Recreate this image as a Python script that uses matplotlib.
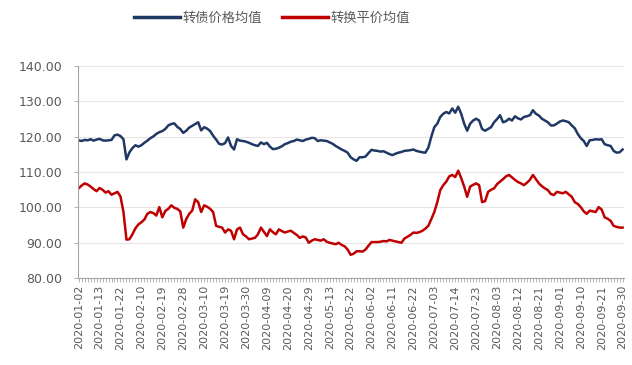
import pandas as pd
import matplotlib.pyplot as plt
from matplotlib.ticker import FixedLocator, MultipleLocator, FormatStrFormatter

plt.rcParams['font.family'] = ['Noto Sans CJK SC', 'DejaVu Sans']

# trading calendar, 2020-01-02 .. 2020-09-30 (SSE holidays removed)
holidays = (list(pd.date_range('2020-01-24', '2020-02-02'))
            + [pd.Timestamp('2020-04-06')]
            + list(pd.date_range('2020-05-01', '2020-05-05'))
            + [pd.Timestamp('2020-06-25'), pd.Timestamp('2020-06-26')])
dates = [d for d in pd.bdate_range('2020-01-02', '2020-09-30') if d not in holidays]
date_labels = [d.strftime('%Y-%m-%d') for d in dates]

# mean convertible bond price
bond_price = [
    119.0, 118.8, 119.1, 119.0, 119.3, 118.9, 119.2, 119.4, 119.0, 118.9,
    119.0, 119.1, 120.4, 120.6, 120.2, 119.3, 113.6, 115.6, 116.8, 117.6,
    117.2, 117.6, 118.3, 118.9, 119.6, 120.1, 120.8, 121.3, 121.6, 122.2,
    123.2, 123.6, 123.8, 122.8, 122.2, 121.1, 121.7, 122.6, 123.1, 123.6,
    124.1, 121.8, 122.7, 122.3, 121.6, 120.3, 119.2, 118.0, 117.8, 118.2,
    119.8, 117.4, 116.4, 119.3, 118.9, 118.8, 118.6, 118.3, 117.9, 117.6,
    117.4, 118.4, 117.9, 118.3, 117.2, 116.5, 116.6, 116.9, 117.3, 117.9,
    118.2, 118.6, 118.8, 119.2, 119.0, 118.8, 119.2, 119.4, 119.7, 119.6,
    118.8, 119.0, 118.9, 118.8, 118.4, 118.0, 117.4, 116.9, 116.4, 116.0,
    115.5, 114.2, 113.6, 113.2, 114.2, 114.2, 114.4, 115.4, 116.3, 116.1,
    116.0, 115.8, 115.9, 115.5, 115.1, 114.8, 115.2, 115.5, 115.7, 116.0,
    116.1, 116.2, 116.4, 116.0, 115.8, 115.6, 115.5, 116.9, 120.0, 122.7,
    123.7, 125.6, 126.5, 127.0, 126.6, 128.0, 126.8, 128.5, 126.5, 123.7,
    121.7, 123.7, 124.6, 125.1, 124.6, 122.2, 121.7, 122.2, 122.7, 124.1,
    125.0, 126.1, 124.1, 124.4, 125.1, 124.6, 125.8, 125.2, 124.9, 125.6,
    125.8, 126.1, 127.5, 126.5, 126.0, 125.1, 124.6, 124.1, 123.2, 123.2,
    123.7, 124.3, 124.6, 124.4, 124.1, 123.2, 122.4, 120.8, 119.6, 118.8,
    117.4, 119.0, 119.1, 119.3, 119.2, 119.3, 117.9, 117.6, 117.4, 116.0,
    115.5, 115.6, 116.4,
]

# mean conversion parity
conv_parity = [
    105.4, 106.2, 106.8, 106.5, 105.9, 105.2, 104.6, 105.5, 105.0, 104.2,
    104.6, 103.6, 104.0, 104.4, 103.1, 98.7, 90.9, 91.0, 92.4, 94.1,
    95.2, 95.8, 96.6, 98.2, 98.7, 98.4, 97.7, 100.1, 97.2, 99.0,
    99.6, 100.6, 99.9, 99.6, 98.9, 94.3, 96.7, 98.2, 99.1, 102.3,
    101.5, 98.7, 100.6, 100.2, 99.6, 98.7, 94.8, 94.5, 94.3, 92.9,
    93.8, 93.4, 91.0, 93.8, 94.3, 92.4, 91.8, 91.0, 91.2, 91.4,
    92.4, 94.3, 93.1, 91.9, 93.8, 93.0, 92.4, 93.8, 93.3, 92.9,
    93.2, 93.4, 92.8, 92.2, 91.4, 91.8, 91.5, 90.0, 90.6, 91.0,
    90.8, 90.6, 91.0, 90.3, 90.0, 89.8, 89.6, 90.0, 89.4, 89.0,
    88.1, 86.6, 86.9, 87.6, 87.6, 87.5, 88.1, 89.2, 90.2, 90.2,
    90.2, 90.3, 90.5, 90.4, 90.8, 90.6, 90.4, 90.2, 90.0, 91.2,
    91.7, 92.2, 92.9, 92.8, 93.0, 93.4, 94.0, 94.8, 96.7, 98.7,
    101.5, 104.9, 106.3, 107.3, 108.8, 109.2, 108.6, 110.4, 108.3, 105.9,
    103.0, 105.9, 106.4, 106.8, 106.3, 101.5, 101.8, 104.4, 105.0, 105.4,
    106.6, 107.3, 108.0, 108.8, 109.2, 108.5, 107.8, 107.2, 106.8, 106.3,
    107.0, 107.8, 109.2, 108.0, 106.8, 106.0, 105.4, 104.9, 103.8, 103.5,
    104.4, 104.2, 104.0, 104.4, 103.7, 103.0, 101.5, 101.0, 100.1, 98.9,
    98.2, 99.1, 98.9, 98.7, 100.1, 99.4, 97.2, 96.8, 96.2, 94.8,
    94.5, 94.3, 94.3,
]

x = list(range(len(dates)))
text_color = '#595959'

fig = plt.figure(figsize=(6.32, 3.65), dpi=100)
ax = fig.add_axes([0.123, 0.238, 0.864, 0.581])

ax.plot(x, bond_price, color='#1F3864', linewidth=1.8, label='转债价格均值')
ax.plot(x, conv_parity, color='#C00000', linewidth=1.8, label='转换平价均值')

ax.set_ylim(80, 140)
ax.yaxis.set_major_locator(MultipleLocator(10))
ax.yaxis.set_major_formatter(FormatStrFormatter('%.2f'))
ax.set_xlim(-0.3, len(dates) - 0.6)

major = x[::7]
ax.xaxis.set_major_locator(FixedLocator(major))
ax.xaxis.set_minor_locator(FixedLocator(x))
ax.set_xticklabels([date_labels[i] for i in major], rotation=90,
                   fontsize=8, color=text_color, family='DejaVu Sans')
ax.tick_params(axis='x', which='both', length=3, width=0.6, color='#A6A6A6', pad=2)
ax.tick_params(axis='y', length=3, width=0.6, color='#A6A6A6', labelsize=9,
               labelcolor=text_color, pad=8)
for lbl in ax.get_yticklabels():
    lbl.set_family('DejaVu Sans')

ax.grid(axis='y', color='#E6E6E6', linewidth=0.8)
ax.set_axisbelow(True)
for side in ['top', 'right']:
    ax.spines[side].set_visible(False)
for side in ['left', 'bottom']:
    ax.spines[side].set_color('#A6A6A6')
    ax.spines[side].set_linewidth(0.8)

leg = fig.legend(loc='upper center', bbox_to_anchor=(0.43, 1.0), ncol=2,
                 frameon=False, fontsize=9.5, handlelength=3.5,
                 handletextpad=0.2, columnspacing=1.5)
for t in leg.get_texts():
    t.set_color(text_color)
for line in leg.get_lines():
    line.set_linewidth(2.5)

plt.savefig('out.png', dpi=100)
